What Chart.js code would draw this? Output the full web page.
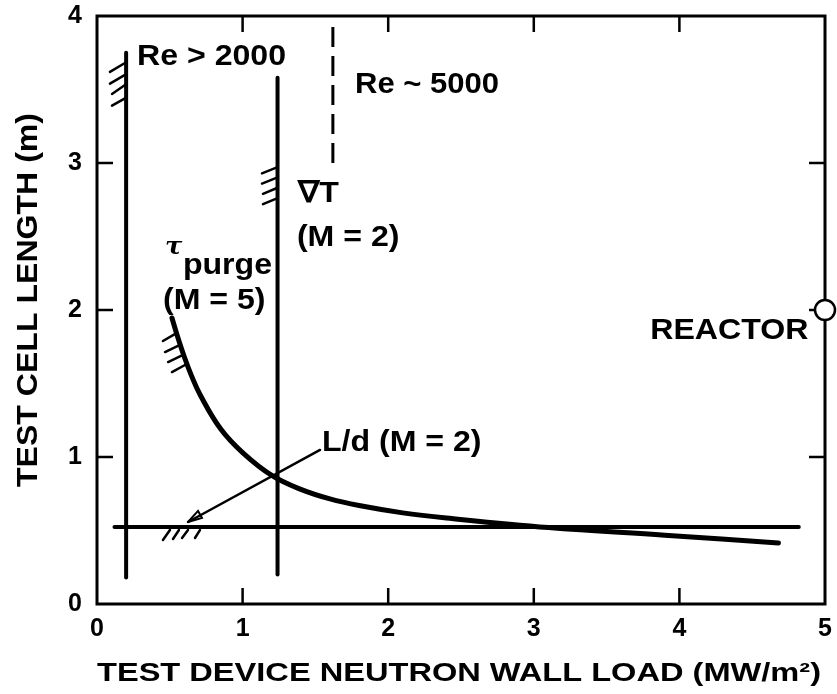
<!DOCTYPE html>
<html>
<head>
<meta charset="utf-8">
<script src="https://cdn.jsdelivr.net/npm/chart.js@4.4.0/dist/chart.umd.min.js"></script>
<style>
  html, body { margin: 0; padding: 0; background: #fff; }
</style>
</head>
<body>
<canvas id="myChart" width="837" height="694"></canvas>
<script>
// axis ticks
const xTicks = [0, 1, 2, 3, 4, 5];
const yTicks = [0, 1, 2, 3, 4];

// axis titles
const xTitle = 'TEST DEVICE NEUTRON WALL LOAD (MW/m\u00b2)';
const yTitle = 'TEST CELL LENGTH (m)';

// Re > 2000 limit (vertical)
const re2000X = [0.2, 0.2];
const re2000Y = [0.18, 3.75];

// grad T (M = 2) limit (vertical)
const gradTX = [1.24, 1.24];
const gradTY = [0.2, 3.58];

// Re ~ 5000 (dashed)
const re5000X = [1.62, 1.62];
const re5000Y = [3.0, 3.93];

// L/d (M = 2) limit (horizontal)
const ldX = [0.12, 4.82];
const ldY = [0.524, 0.524];

// tau purge (M = 5) curve
const purgeX = [0.515, 0.55, 0.6, 0.65, 0.71, 0.85, 1.0, 1.2, 1.4, 1.6, 1.8, 2.1, 2.4, 3.1, 3.9, 4.68];
const purgeY = [1.946, 1.83, 1.68, 1.55, 1.42, 1.19, 1.03, 0.875, 0.78, 0.715, 0.67, 0.62, 0.585, 0.52, 0.468, 0.415];

// leader line of the L/d label
const leaderX = [1.532, 0.625];
const leaderY = [1.048, 0.558];
const arrowX = [0.625, 0.694, 0.721, 0.625];
const arrowY = [0.558, 0.633, 0.585, 0.558];

// reactor point
const reactorX = [5];
const reactorY = [2];

// hatch strokes [x1, y1, x2, y2]
const hatchRe2000 = [[0.089, 3.62, 0.192, 3.68], [0.089, 3.54, 0.192, 3.60], [0.103, 3.47, 0.192, 3.53], [0.103, 3.39, 0.192, 3.44]];
const hatchGradT = [[1.133, 2.93, 1.236, 2.97], [1.133, 2.86, 1.236, 2.90], [1.14, 2.79, 1.236, 2.83], [1.14, 2.72, 1.236, 2.76]];
const hatchPurge = [[0.453, 1.789, 0.549, 1.844], [0.467, 1.714, 0.57, 1.762], [0.488, 1.646, 0.591, 1.694], [0.515, 1.578, 0.604, 1.626]];
const hatchLd = [[0.453, 0.435, 0.501, 0.503], [0.522, 0.442, 0.563, 0.503], [0.584, 0.449, 0.625, 0.503], [0.673, 0.449, 0.707, 0.503]];

// text labels: [text, x, y, font]
const labels = [
  ['Re > 2000', 0.275, 3.72, 'bold 30px "Liberation Sans"'],
  ['Re ~ 5000', 1.772, 3.531, 'bold 29px "Liberation Sans"'],
  ['\u2207T', 1.38, 2.79, 'bold 30px "Liberation Sans"'],
  ['(M = 2)', 1.373, 2.49, 'bold 30px "Liberation Sans"'],
  ['\u03c4', 0.467, 2.42, 'italic bold 24px "DejaVu Serif"'],
  ['purge', 0.59, 2.30, 'bold 30px "Liberation Sans"'],
  ['(M = 5)', 0.453, 2.061, 'bold 30px "Liberation Sans"'],
  ['REACTOR', 3.80, 1.857, 'bold 30px "Liberation Sans"'],
  ['L/d (M = 2)', 1.545, 1.095, 'bold 30px "Liberation Sans"']
];

function pts(xs, ys) {
  return xs.map((x, i) => ({ x: x, y: ys[i] }));
}
function strokes(list) {
  const out = [];
  list.forEach(s => {
    out.push({ x: s[0], y: s[1] }, { x: s[2], y: s[3] }, { x: s[2], y: null });
  });
  return out;
}

const black = '#000';

// draws text stretched sideways to a given length
function wideText(ctx, text, cx, cy, font, length, angle) {
  ctx.save();
  ctx.font = font;
  ctx.textAlign = 'center';
  ctx.textBaseline = 'middle';
  const w = ctx.measureText(text).width;
  ctx.translate(cx, cy);
  ctx.rotate(angle);
  ctx.scale(length / w, 1);
  ctx.fillText(text, 0, 0);
  ctx.restore();
}

const framePlugin = {
  id: 'frame',
  afterDatasetsDraw(chart) {
    const { ctx, chartArea: a, scales: { x, y } } = chart;
    ctx.save();
    ctx.strokeStyle = black;
    ctx.lineWidth = 3;
    ctx.strokeRect(a.left, a.top, a.right - a.left, a.bottom - a.top);
    // inward ticks on all four sides
    const len = 16;
    ctx.lineWidth = 2.5;
    ctx.beginPath();
    xTicks.slice(1, -1).forEach(v => {
      const px = x.getPixelForValue(v);
      ctx.moveTo(px, a.bottom); ctx.lineTo(px, a.bottom - len);
      ctx.moveTo(px, a.top); ctx.lineTo(px, a.top + len);
    });
    yTicks.slice(1, -1).forEach(v => {
      const py = y.getPixelForValue(v);
      ctx.moveTo(a.left, py); ctx.lineTo(a.left + len, py);
      ctx.moveTo(a.right, py); ctx.lineTo(a.right - len, py);
    });
    ctx.stroke();
    // reactor marker on the right axis
    const rx = x.getPixelForValue(reactorX[0]);
    const ry = y.getPixelForValue(reactorY[0]);
    ctx.beginPath();
    ctx.arc(rx, ry, 10, 0, Math.PI * 2);
    ctx.fillStyle = '#fff';
    ctx.fill();
    ctx.lineWidth = 2.5;
    ctx.stroke();
    // labels
    ctx.fillStyle = black;
    labels.forEach(l => {
      ctx.save();
      ctx.font = l[3];
      ctx.textAlign = 'left';
      ctx.textBaseline = 'middle';
      ctx.translate(x.getPixelForValue(l[1]), y.getPixelForValue(l[2]));
      ctx.scale(1.07, 1);
      ctx.fillText(l[0], 0, 0);
      ctx.restore();
    });
    // axis titles (the original lettering is an extended face)
    wideText(ctx, xTitle, (a.left + a.right) / 2 - 2, 674, 'bold 25px "Liberation Sans"', a.right - a.left - 4, 0);
    wideText(ctx, yTitle, 29, (a.top + a.bottom) / 2 - 10, 'bold 29px "Liberation Sans"', 374, -Math.PI / 2);
    ctx.restore();
  }
};

Chart.defaults.font.family = '"Liberation Sans", Arial, sans-serif';
Chart.defaults.color = black;

const ctx = document.getElementById('myChart');

new Chart(ctx, {
  type: 'scatter',
  data: {
    datasets: [
      { data: pts(re2000X, re2000Y), borderWidth: 4 },
      { data: pts(gradTX, gradTY), borderWidth: 4 },
      { data: pts(re5000X, re5000Y), borderWidth: 3, borderDash: [20, 9], borderCapStyle: 'butt' },
      { data: pts(ldX, ldY), borderWidth: 4 },
      { data: pts(purgeX, purgeY), borderWidth: 5, tension: 0.4 },
      { data: pts(leaderX, leaderY), borderWidth: 2.5 },
      { data: pts(arrowX, arrowY), borderWidth: 2 },
      { data: strokes(hatchRe2000.concat(hatchGradT, hatchPurge, hatchLd)), borderWidth: 2.5, spanGaps: false }
    ]
  },
  options: {
    responsive: false,
    animation: false,
    devicePixelRatio: 1,
    showLine: true,
    borderColor: black,
    elements: {
      point: { radius: 0, hoverRadius: 0 },
      line: { borderColor: black, borderCapStyle: 'round', fill: false }
    },
    layout: { padding: 0 },
    plugins: {
      legend: { display: false },
      tooltip: { enabled: false }
    },
    scales: {
      x: {
        type: 'linear',
        min: 0,
        max: 5,
        afterFit(s) { s.height = 90; s.paddingLeft = 0; s.paddingRight = 12; },
        afterBuildTicks(s) { s.ticks = xTicks.map(v => ({ value: v })); },
        grid: { display: false, drawTicks: false },
        border: { display: false },
        ticks: { padding: 10, font: { size: 25, weight: 'bold' }, color: black }
      },
      y: {
        type: 'linear',
        min: 0,
        max: 4,
        afterFit(s) { s.width = 97; s.paddingTop = 16; s.paddingBottom = 0; },
        afterBuildTicks(s) { s.ticks = yTicks.map(v => ({ value: v })); },
        grid: { display: false, drawTicks: false },
        border: { display: false },
        ticks: { padding: 15, font: { size: 25, weight: 'bold' }, color: black }
      }
    }
  },
  plugins: [framePlugin]
});
</script>
</body>
</html>
